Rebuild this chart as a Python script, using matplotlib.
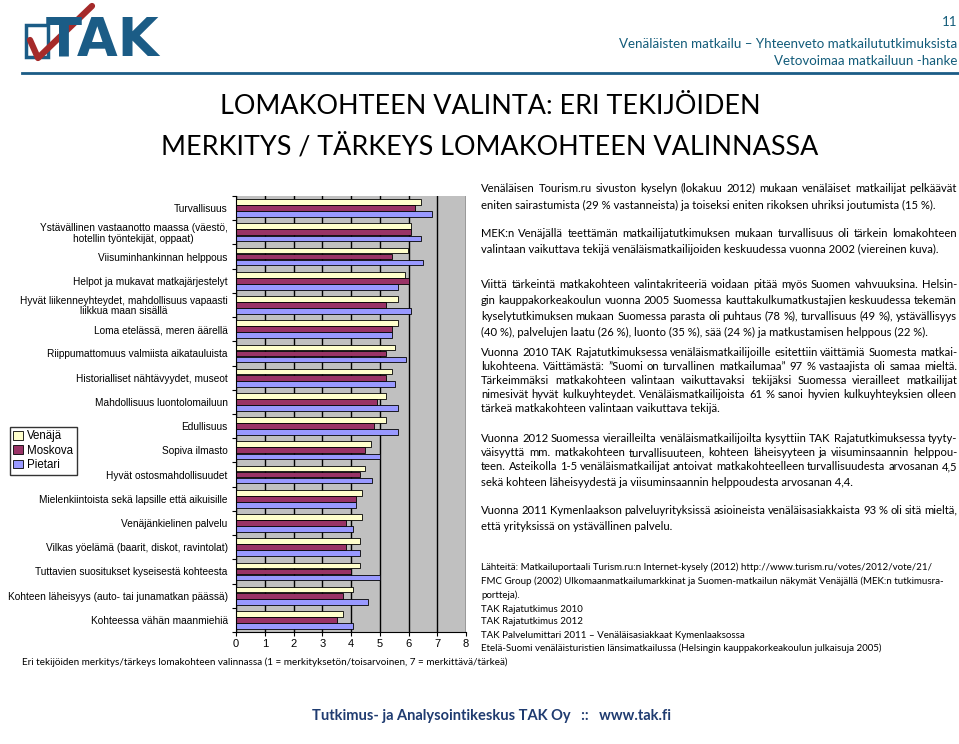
import numpy as np
import matplotlib.pyplot as plt
from matplotlib.lines import Line2D
from matplotlib.patches import Rectangle

W, H = 959, 744

categories = [
    "Turvallisuus",
    "Ystävällinen vastaanotto maassa (väestö,\nhotellin työntekijät, oppaat)",
    "Viisuminhankinnan helppous",
    "Helpot ja mukavat matkajärjestelyt",
    "Hyvät liikenneyhteydet, mahdollisuus vapaasti\nliikkua maan sisällä",
    "Loma etelässä, meren äärellä",
    "Riippumattomuus valmiista aikatauluista",
    "Historialliset nähtävyydet, museot",
    "Mahdollisuus luontolomailuun",
    "Edullisuus",
    "Sopiva ilmasto",
    "Hyvät ostosmahdollisuudet",
    "Mielenkiintoista sekä lapsille että aikuisille",
    "Venäjänkielinen palvelu",
    "Vilkas yöelämä (baarit, diskot, ravintolat)",
    "Tuttavien suositukset kyseisestä kohteesta",
    "Kohteen läheisyys (auto- tai junamatkan päässä)",
    "Kohteessa vähän maanmiehiä",
]
venaja = [6.42, 6.10, 5.98, 5.89, 5.62, 5.62, 5.52, 5.42, 5.21, 5.21, 4.71, 4.50,
          4.39, 4.39, 4.30, 4.30, 4.07, 3.72]
moskova = [6.22, 6.10, 5.42, 6.00, 5.21, 5.42, 5.21, 5.21, 4.91, 4.81, 4.50, 4.30,
           4.19, 3.81, 3.81, 4.00, 3.72, 3.50]
pietari = [6.83, 6.42, 6.51, 5.62, 6.10, 5.42, 5.91, 5.54, 5.63, 5.63, 5.01, 4.72,
           4.19, 4.07, 4.30, 5.01, 4.60, 4.07]
series = ["Venäjä", "Moskova", "Pietari"]
colors = ["#FFFFCC", "#993366", "#9999FF"]

fig = plt.figure(figsize=(W / 100, H / 100), dpi=100)
fig.patch.set_facecolor("white")


def fx(x):
    return x / W


def fy(y):
    return 1 - y / H


# ---- chart ----
ax = fig.add_axes([fx(236), fy(632), 230 / W, 436 / H])
ax.set_facecolor("#C0C0C0")
ax.set_axisbelow(True)
ax.xaxis.grid(True, color="black", linewidth=1)
y = np.arange(len(categories))
bh = 0.235
for k, (vals, c, name) in enumerate(zip([venaja, moskova, pietari], colors, series)):
    ax.barh(y + (k - 1) * 0.25, vals, height=bh, color=c, edgecolor="black",
            linewidth=0.6, label=name)
ax.set_xlim(0, 8)
ax.set_ylim(len(categories) - 0.5, -0.5)
ax.set_xticks(range(9))
ax.tick_params(axis="x", labelsize=8, length=3, pad=2)
for lab in ax.get_xticklabels():
    lab.set_family("Liberation Sans")
ax.set_yticks(np.arange(len(categories) + 1) - 0.5)
ax.set_yticklabels([])
ax.tick_params(axis="y", which="major", length=3)
ax.set_yticks(y, minor=True)
ax.set_yticklabels(categories, minor=True, fontsize=7.3, family="Liberation Sans",
                   ha="right", multialignment="center", linespacing=1.05)
ax.tick_params(axis="y", which="minor", length=0, pad=6)
for s in ["top", "right"]:
    ax.spines[s].set_visible(False)

handles, labels = ax.get_legend_handles_labels()
fig.legend(handles, labels, loc="upper left", bbox_to_anchor=(fx(10), fy(427)),
           prop={"family": "Liberation Sans", "size": 8.3}, frameon=True,
           fancybox=False, edgecolor="black", handlelength=0.8, handleheight=0.8,
           handletextpad=0.4, borderpad=0.3, labelspacing=0.2, borderaxespad=0)

fig.text(fx(22), fy(662), "Eri tekijöiden merkitys/tärkeys lomakohteen valinnassa "
         "(1 = merkityksetön/toisarvoinen, 7 = merkittävä/tärkeä)",
         fontsize=7.1, family="Lato", va="center")

# ---- header ----
blue = "#1B5C86"
fig.add_artist(Line2D([fx(22), 1], [fy(73), fy(73)], color=blue, linewidth=2))
fig.add_artist(Rectangle((fx(26), fy(57)), 22 / W, 32 / H, fill=False,
                         edgecolor=blue, linewidth=2.5))
fig.text(fx(46), fy(41), "TAK", fontsize=38, weight="heavy", color=blue,
         family="DejaVu Sans", va="center")
fig.add_artist(Line2D([fx(30), fx(38), fx(92)], [fy(40), fy(58), fy(6)],
                      color="#A52A2A", linewidth=4.5, solid_capstyle="round"))

hdr = "#135C7A"
fig.text(fx(957), fy(22), "11", fontsize=9.5, color=hdr, family="Lato",
         ha="right", va="center")
fig.text(fx(957), fy(44), "Venäläisten matkailu – Yhteenveto matkailututkimuksista",
         fontsize=9.6, color=hdr, family="Lato", ha="right", va="center")
fig.text(fx(957), fy(61), "Vetovoimaa matkailuun -hanke", fontsize=9.6, color=hdr,
         family="Lato", ha="right", va="center")

fig.text(fx(490), fy(107), "LOMAKOHTEEN VALINTA: ERI TEKIJÖIDEN", fontsize=19.4,
         family="Lato", ha="center", va="center")
fig.text(fx(490), fy(147), "MERKITYS / TÄRKEYS LOMAKOHTEEN VALINNASSA", fontsize=19.4,
         family="Lato", ha="center", va="center")

# ---- right-hand text ----
renderer = fig.canvas.get_renderer()


def put_line(text, y, x0=481, x1=957, size=8.1, justify=True):
    if not justify:
        fig.text(fx(x0), fy(y), text, fontsize=size, family="Lato", va="center")
        return
    words = text.split(" ")
    objs = [fig.text(0, 0, w, fontsize=size, family="Lato", va="center") for w in words]
    widths = [o.get_window_extent(renderer).width for o in objs]
    gap = (x1 - x0 - sum(widths)) / (len(words) - 1)
    x = x0
    for o, w in zip(objs, widths):
        o.set_position((fx(x), fy(y)))
        x += w + gap


paragraphs = [
    ([188, 205], [
        "Venäläisen Tourism.ru sivuston kyselyn (lokakuu 2012) mukaan venäläiset matkailijat pelkäävät",
        "eniten sairastumista (29 % vastanneista) ja toiseksi eniten rikoksen uhriksi joutumista (15 %).",
    ]),
    ([233, 249], [
        "MEK:n Venäjällä teettämän matkailijatutkimuksen mukaan turvallisuus oli tärkein lomakohteen",
        "valintaan vaikuttava tekijä venäläismatkailijoiden keskuudessa vuonna 2002 (viereinen kuva).",
    ]),
    ([284, 300, 316, 332], [
        "Viittä tärkeintä matkakohteen valintakriteeriä voidaan pitää myös Suomen vahvuuksina. Helsin-",
        "gin kauppakorkeakoulun vuonna 2005 Suomessa kauttakulkumatkustajien keskuudessa tekemän",
        "kyselytutkimuksen mukaan Suomessa parasta oli puhtaus (78 %), turvallisuus (49 %), ystävällisyys",
        "(40 %), palvelujen laatu (26 %), luonto (35 %), sää (24 %) ja matkustamisen helppous (22 %).",
    ]),
    ([352, 367, 381, 395, 409], [
        "Vuonna 2010 TAK Rajatutkimuksessa venäläismatkailijoille esitettiin väittämiä Suomesta matkai-",
        "lukohteena. Väittämästä: ”Suomi on turvallinen matkailumaa” 97 % vastaajista oli samaa mieltä.",
        "Tärkeimmäksi matkakohteen valintaan vaikuttavaksi tekijäksi Suomessa vierailleet matkailijat",
        "nimesivät hyvät kulkuyhteydet. Venäläismatkailijoista 61 % sanoi hyvien kulkuyhteyksien olleen",
        "tärkeä matkakohteen valintaan vaikuttava tekijä.",
    ]),
    ([439, 453, 467, 482], [
        "Vuonna 2012 Suomessa vierailleilta venäläismatkailijoilta kysyttiin TAK Rajatutkimuksessa tyyty-",
        "väisyyttä mm. matkakohteen turvallisuuteen, kohteen läheisyyteen ja viisuminsaannin helppou-",
        "teen. Asteikolla 1-5 venäläismatkailijat antoivat matkakohteelleen turvallisuudesta arvosanan 4,5",
        "sekä kohteen läheisyydestä ja viisuminsaannin helppoudesta arvosanan 4,4.",
    ]),
    ([510, 526], [
        "Vuonna 2011 Kymenlaakson palveluyrityksissä asioineista venäläisasiakkaista 93 % oli sitä mieltä,",
        "että yrityksissä on ystävällinen palvelu.",
    ]),
]
for ys, lines in paragraphs:
    for i, (yy, line) in enumerate(zip(ys, lines)):
        put_line(line, yy, justify=(i < len(lines) - 1))

sources = [
    "Lähteitä: Matkailuportaali Turism.ru:n Internet-kysely (2012) http://www.turism.ru/votes/2012/vote/21/",
    "FMC Group (2002) Ulkomaanmatkailumarkkinat ja Suomen-matkailun näkymät Venäjällä (MEK:n tutkimusra-",
    "portteja).",
    "TAK Rajatutkimus 2010",
    "TAK Rajatutkimus 2012",
    "TAK Palvelumittari 2011 – Venäläisasiakkaat Kymenlaaksossa",
    "Etelä-Suomi venäläisturistien länsimatkailussa (Helsingin kauppakorkeakoulun julkaisuja 2005)",
]
for yy, line in zip([567, 581, 595, 609, 622, 635, 648], sources):
    put_line(line, yy, size=7.0, justify=False)

# ---- footer ----
fig.text(fx(491), fy(716), "Tutkimus- ja Analysointikeskus TAK Oy   ::   www.tak.fi",
         fontsize=10.5, weight="bold", color="#1F3B70", family="Lato",
         ha="center", va="center")

fig.savefig("out.png", dpi=100)
